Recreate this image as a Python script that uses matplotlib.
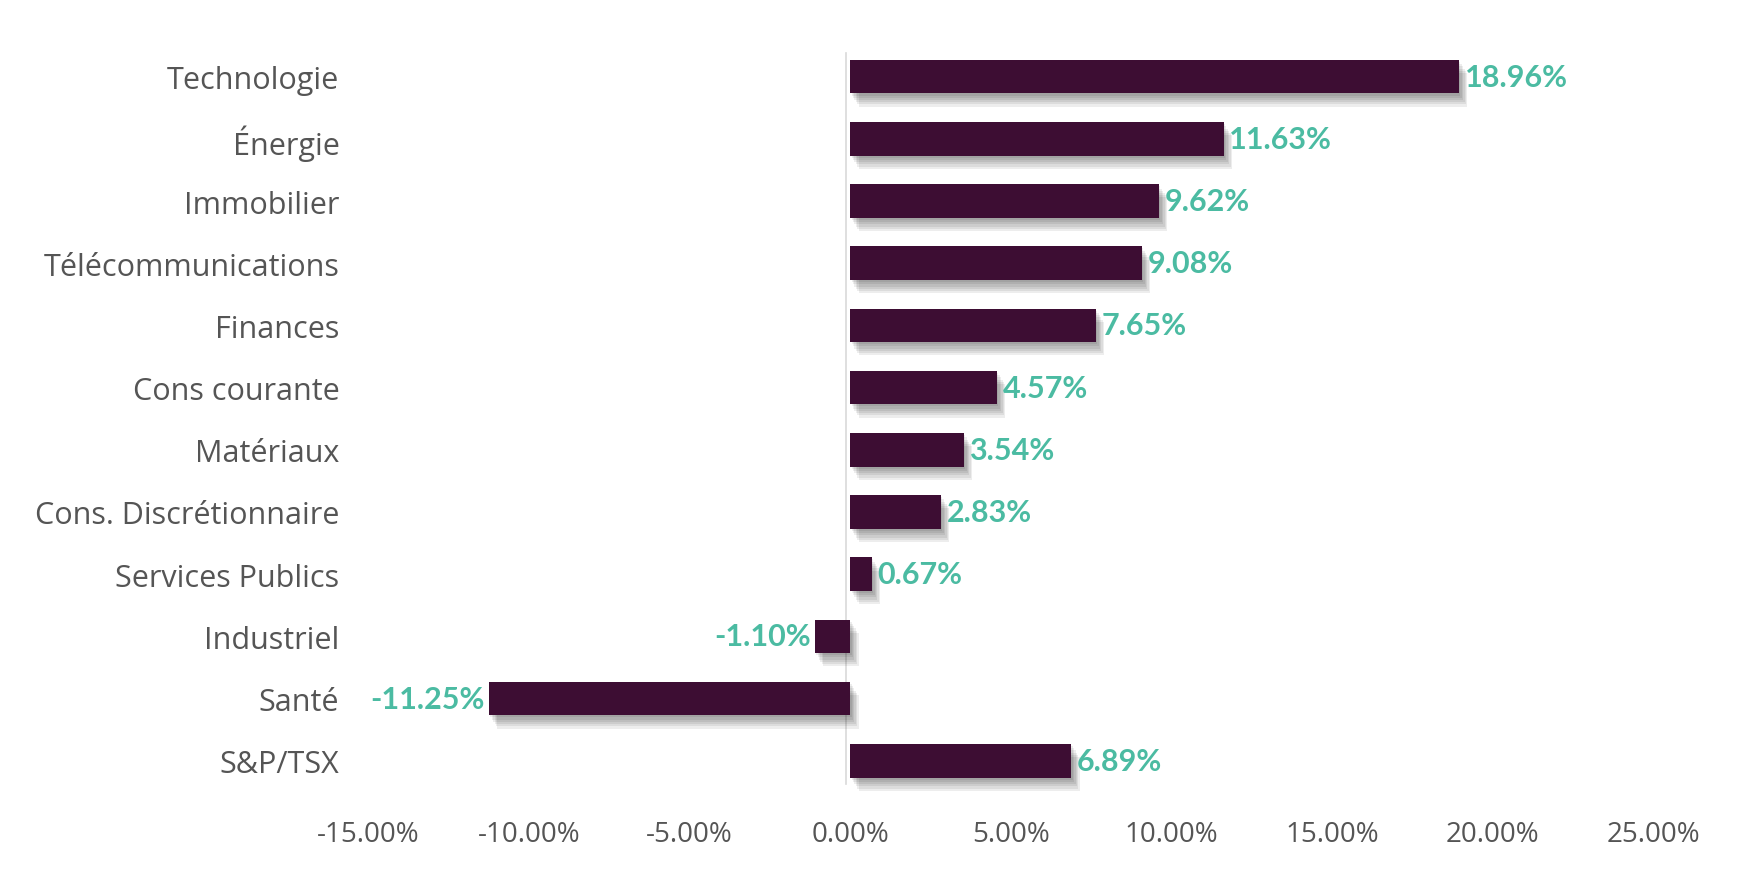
import matplotlib.pyplot as plt
import matplotlib.patheffects as pe
from matplotlib.ticker import FuncFormatter

# Rendement par secteur
secteurs = ['Technologie', 'Énergie', 'Immobilier', 'Télécommunications', 'Finances',
            'Cons courante', 'Matériaux', 'Cons. Discrétionnaire', 'Services Publics',
            'Industriel', 'Santé', 'S&P/TSX']
rendements = [18.96, 11.63, 9.62, 9.08, 7.65, 4.57, 3.54, 2.83, 0.67, -1.10, -11.25, 6.89]
x_ticks = [-15, -10, -5, 0, 5, 10, 15, 20, 25]

BAR = '#3d0d33'
VERT = '#4bbba2'
GRIS = '#555555'

plt.rcParams['font.family'] = ['Open Sans', 'DejaVu Sans']

fig = plt.figure(figsize=(17.51, 8.78), dpi=100)
ax = fig.add_axes([0.2105, 0.097, 0.7335, 0.85])

y = list(range(len(secteurs)))
bars = ax.barh(y, rendements, height=0.54, color=BAR, zorder=2)

# ombre portée douce
ombre = [pe.SimplePatchShadow(offset=(1 + i, -1.5 - 1.6 * i), shadow_rgbFace='black', alpha=0.07)
         for i in range(6)]
for b in bars:
    b.set_path_effects(ombre + [pe.Normal()])

# ligne du zéro
ax.axvline(-0.12, color='#d9d9d9', lw=1.2, zorder=1, ymin=0.01, ymax=0.99)

for yi, v in zip(y, rendements):
    if v >= 0:
        ax.annotate(f'{v:.2f}%', (v, yi), xytext=(4, 0), textcoords='offset points',
                    ha='left', va='center', color=VERT, fontsize=22, fontweight='bold',
                    family=['Lato', 'DejaVu Sans'])
    else:
        ax.annotate(f'{v:.2f}%', (v, yi), xytext=(-3, 0), textcoords='offset points',
                    ha='right', va='center', color=VERT, fontsize=22, fontweight='bold',
                    family=['Lato', 'DejaVu Sans'])

ax.set_xlim(-15, 25)
ax.set_ylim(len(secteurs) - 0.5, -0.5)
ax.set_yticks(y)
ax.set_yticklabels(secteurs)
ax.set_xticks(x_ticks)
ax.xaxis.set_major_formatter(FuncFormatter(lambda v, p: f'{v:.2f}%'))
ax.tick_params(axis='y', length=0, pad=21, labelsize=22, labelcolor=GRIS)
ax.tick_params(axis='x', length=0, pad=20, labelsize=20, labelcolor=GRIS)
for s in ax.spines.values():
    s.set_visible(False)

plt.savefig('out.png', dpi=100)
